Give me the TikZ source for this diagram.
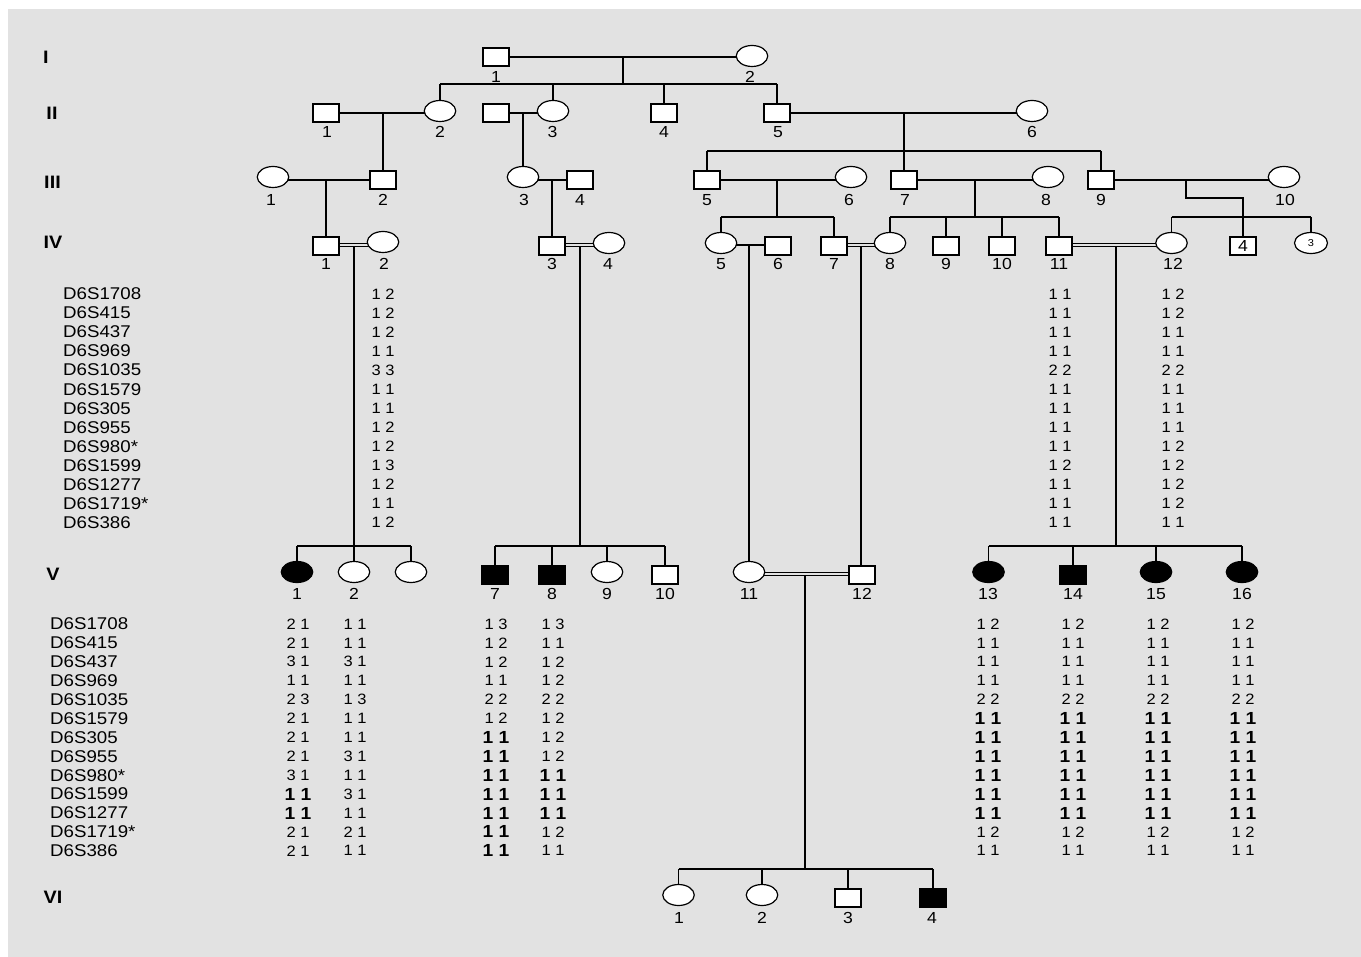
\documentclass[tikz,border=0pt]{standalone}
\usepackage{fontspec}
\setmainfont[FakeStretch=1.1]{Liberation Sans}
\usetikzlibrary{shapes.geometric}
\pgfdeclarelayer{bg}\pgfdeclarelayer{lines}\pgfsetlayers{bg,lines,main}
\definecolor{bgc}{RGB}{226,226,226}
\newcommand\bal[1]{{\fontsize{17.5}{17.5}\selectfont\bfseries #1}}
\newcommand\alcol[5]{\foreach \a [count=\i from 0] in {#5} {\node[al] (#1-\i) at (#2,{#3+#4*\i}) {\a};}}
\tikzset{
 ind/.style={draw=black, fill=white, inner sep=0pt, outer sep=0pt},
 male/.style={ind, rectangle, line width=2pt, minimum width=26pt, minimum height=18pt},
 female/.style={ind, ellipse, line width=1.2pt, minimum width=31.5pt, minimum height=21pt},
 aff/.style={fill=black},
 lbl/.style={font=\fontsize{16}{16}\selectfont, inner sep=0pt},
 gen/.style={font=\fontsize{18}{18}\selectfont\bfseries, inner sep=0pt},
 mk/.style={font=\fontsize{17}{17}\selectfont, inner sep=0pt, anchor=west},
 al/.style={font=\fontsize{15}{15}\selectfont, inner sep=0pt},
 ln/.style={line width=1.8pt},
 dbl/.style={double=bgc, line width=1.2pt, double distance=1.8pt},
}
\begin{document}
\begin{tikzpicture}[x=1pt,y=-1pt]
\useasboundingbox (0,0) rectangle (1361,957);
\begin{pgfonlayer}{bg}
\fill[white] (0,0) rectangle (1361,957);
\fill[bgc] (8,9) rectangle (1361,957);
\end{pgfonlayer}

% generation labels
\node[gen] (gI) at (46,57) {I};
\node[gen] (gII) at (52,113) {II};
\node[gen] (gIII) at (52.5,182) {III};
\node[gen] (gIV) at (53,242) {IV};
\node[gen] (gV) at (53,574) {V};
\node[gen] (gVI) at (53,897) {VI};

% Generation I
\node[male] (I1) at (496,57) {};
\node[female] (I2) at (752,56) {};
\node[lbl] (lI1) at (496,77) {1};
\node[lbl] (lI2) at (750,77) {2};

% Generation II
\node[male] (II1) at (326,113) {};
\node[female] (II2) at (440,111) {};
\node[male] (IIa) at (496,113) {};
\node[female] (II3) at (553,111) {};
\node[male] (II4) at (664,113) {};
\node[male] (II5) at (777,113) {};
\node[female] (II6) at (1032,111) {};
\node[lbl] (lII1) at (327,132) {1};
\node[lbl] (lII2) at (440,132) {2};
\node[lbl] (lII3) at (552.5,132) {3};
\node[lbl] (lII4) at (664,132) {4};
\node[lbl] (lII5) at (778,132) {5};
\node[lbl] (lII6) at (1032,132) {6};

% Generation III
\node[female] (III1) at (273,177) {};
\node[male] (III2) at (383,180) {};
\node[female] (III3) at (523,177) {};
\node[male] (III4) at (580,180) {};
\node[male] (III5) at (707,180) {};
\node[female] (III6) at (851,177) {};
\node[male] (III7) at (904,180) {};
\node[female] (III8) at (1048,177) {};
\node[male] (III9) at (1101,180) {};
\node[female] (III10) at (1284,177) {};
\node[lbl] (lIII1) at (271,200) {1};
\node[lbl] (lIII2) at (383,200) {2};
\node[lbl] (lIII3) at (524,200) {3};
\node[lbl] (lIII4) at (580,200) {4};
\node[lbl] (lIII5) at (707,200) {5};
\node[lbl] (lIII6) at (849,200) {6};
\node[lbl] (lIII7) at (905,200) {7};
\node[lbl] (lIII8) at (1046,200) {8};
\node[lbl] (lIII9) at (1101,200) {9};
\node[lbl] (lIII10) at (1285,200) {10};

% Generation IV
\node[male] (IV1) at (326,246) {};
\node[female] (IV2) at (383,242) {};
\node[male] (IV3) at (552,246) {};
\node[female] (IV4) at (609,243) {};
\node[female] (IV5) at (721,243) {};
\node[male] (IV6) at (778,246) {};
\node[male] (IV7) at (834,246) {};
\node[female] (IV8) at (890,243) {};
\node[male] (IV9) at (946,246) {};
\node[male] (IV10) at (1002,246) {};
\node[male] (IV11) at (1059,246) {};
\node[female] (IV12) at (1171.5,243) {};
\node[male,font=\fontsize{16}{16}\selectfont] (IVm4) at (1243,246) {4};
\node[female,minimum width=33pt,font=\fontsize{10}{10}\selectfont] (IVf3) at (1311,243) {3};
\node[lbl] (lIV1) at (326,264) {1};
\node[lbl] (lIV2) at (384,264) {2};
\node[lbl] (lIV3) at (552,264) {3};
\node[lbl] (lIV4) at (608,264) {4};
\node[lbl] (lIV5) at (721,264) {5};
\node[lbl] (lIV6) at (778,264) {6};
\node[lbl] (lIV7) at (834,264) {7};
\node[lbl] (lIV8) at (890,264) {8};
\node[lbl] (lIV9) at (946,264) {9};
\node[lbl] (lIV10) at (1002,264) {10};
\node[lbl] (lIV11) at (1059,264) {11};
\node[lbl] (lIV12) at (1173,264) {12};

% Generation V
\node[female,aff] (V1) at (297,572) {};
\node[female] (V2) at (354,572) {};
\node[female] (V3) at (411,572) {};
\node[male,aff] (V7) at (495,575) {};
\node[male,aff] (V8) at (552,575) {};
\node[female] (V9) at (607,572) {};
\node[male] (V10) at (665,575) {};
\node[female] (V11) at (749,572) {};
\node[male] (V12) at (862,575) {};
\node[female,aff] (V13) at (988.5,572) {};
\node[male,aff] (V14) at (1073,575) {};
\node[female,aff] (V15) at (1156,572) {};
\node[female,aff] (V16) at (1242,572) {};
\node[lbl] (lV1) at (297,594) {1};
\node[lbl] (lV2) at (354,594) {2};
\node[lbl] (lV7) at (495,594) {7};
\node[lbl] (lV8) at (552,594) {8};
\node[lbl] (lV9) at (607,594) {9};
\node[lbl] (lV10) at (665,594) {10};
\node[lbl] (lV11) at (749,594) {11};
\node[lbl] (lV12) at (862,594) {12};
\node[lbl] (lV13) at (988,594) {13};
\node[lbl] (lV14) at (1073,594) {14};
\node[lbl] (lV15) at (1156,594) {15};
\node[lbl] (lV16) at (1242,594) {16};

% Generation VI
\node[female] (VI1) at (678.5,895) {};
\node[female] (VI2) at (762,895) {};
\node[male] (VI3) at (848,898) {};
\node[male,aff] (VI4) at (933,898) {};
\node[lbl] (lVI1) at (679,918) {1};
\node[lbl] (lVI2) at (762,918) {2};
\node[lbl] (lVI3) at (848,918) {3};
\node[lbl] (lVI4) at (932,918) {4};

% marker names
\def\markers{D6S1708,D6S415,D6S437,D6S969,D6S1035,D6S1579,D6S305,D6S955,D6S980*,D6S1599,D6S1277,D6S1719*,D6S386}
\foreach \m [count=\i from 0] in \markers {\node[mk] (mkIV-\i) at (63,{294+19.03*\i}) {\m};}
\foreach \m [count=\i from 0] in \markers {\node[mk] (mkV-\i) at (50,{624+18.9*\i}) {\m};}

% haplotypes generation IV
\alcol{aIV2}{383}{294}{19.03}{1 2,1 2,1 2,1 1,3 3,1 1,1 1,1 2,1 2,1 3,1 2,1 1,1 2}
\alcol{aIV11}{1060}{294}{19.03}{1 1,1 1,1 1,1 1,2 2,1 1,1 1,1 1,1 1,1 2,1 1,1 1,1 1}
\alcol{aIV12}{1173}{294}{19.03}{1 2,1 2,1 1,1 1,2 2,1 1,1 1,1 1,1 2,1 2,1 2,1 2,1 1}

% haplotypes generation V
\alcol{aV1}{298}{624}{18.9}{2 1,2 1,3 1,1 1,2 3,2 1,2 1,2 1,3 1,\bal{1 1},\bal{1 1},2 1,2 1}
\alcol{aV2}{355}{624}{18.9}{1 1,1 1,3 1,1 1,1 3,1 1,1 1,3 1,1 1,3 1,1 1,2 1,1 1}
\alcol{aV7}{496}{624}{18.9}{1 3,1 2,1 2,1 1,2 2,1 2,\bal{1 1},\bal{1 1},\bal{1 1},\bal{1 1},\bal{1 1},\bal{1 1},\bal{1 1}}
\alcol{aV8}{553}{624}{18.9}{1 3,1 1,1 2,1 2,2 2,1 2,1 2,1 2,\bal{1 1},\bal{1 1},\bal{1 1},1 2,1 1}
\alcol{aV13}{988}{624}{18.9}{1 2,1 1,1 1,1 1,2 2,\bal{1 1},\bal{1 1},\bal{1 1},\bal{1 1},\bal{1 1},\bal{1 1},1 2,1 1}
\alcol{aV14}{1073}{624}{18.9}{1 2,1 1,1 1,1 1,2 2,\bal{1 1},\bal{1 1},\bal{1 1},\bal{1 1},\bal{1 1},\bal{1 1},1 2,1 1}
\alcol{aV15}{1158}{624}{18.9}{1 2,1 1,1 1,1 1,2 2,\bal{1 1},\bal{1 1},\bal{1 1},\bal{1 1},\bal{1 1},\bal{1 1},1 2,1 1}
\alcol{aV16}{1243}{624}{18.9}{1 2,1 1,1 1,1 1,2 2,\bal{1 1},\bal{1 1},\bal{1 1},\bal{1 1},\bal{1 1},\bal{1 1},1 2,1 1}

% connectors
\begin{pgfonlayer}{lines}
% I
\coordinate (m1) at (623,57);
\coordinate (s1) at (623,84);
\draw[ln] (I1) -- (I1 -| I2);
\draw[ln] (m1) -- (s1);
\draw[ln] (II2 |- s1) -- (II5 |- s1);
\foreach \c in {II2,II3,II4,II5} \draw[ln] (\c |- s1) -- (\c);
% II
\draw[ln] (II1) -- (II1 -| II2);
\coordinate (m2a) at (383,113);
\draw[ln] (m2a) -- (III2);
\draw[ln] (IIa) -- (IIa -| II3);
\coordinate (m2b) at (523,113);
\draw[ln] (m2b) -- (III3);
\draw[ln] (II5) -- (II5 -| II6);
\coordinate (m2c) at (904,113);
\coordinate (s2c) at (904,151);
\draw[ln] (m2c) -- (s2c);
\draw[ln] (III5 |- s2c) -- (III9 |- s2c);
\foreach \c in {III5,III7,III9} \draw[ln] (\c |- s2c) -- (\c);
% III
\draw[ln] (III2) -- (III2 -| III1);
\coordinate (m3a) at (326,180);
\draw[ln] (m3a) -- (IV1);
\draw[ln] (III4) -- (III4 -| III3);
\coordinate (m3b) at (552,180);
\draw[ln] (m3b) -- (IV3);
\draw[ln] (III5) -- (III5 -| III6);
\coordinate (m3c) at (777,180);
\coordinate (s3c) at (777,217);
\draw[ln] (m3c) -- (s3c);
\draw[ln] (IV5 |- s3c) -- (IV7 |- s3c);
\foreach \c in {IV5,IV7} \draw[ln] (\c |- s3c) -- (\c);
\draw[ln] (III7) -- (III7 -| III8);
\coordinate (m3d) at (975,180);
\coordinate (s3d) at (975,217);
\draw[ln] (m3d) -- (s3d);
\draw[ln] (IV8 |- s3d) -- (IV11 |- s3d);
\foreach \c in {IV8,IV9,IV10,IV11} \draw[ln] (\c |- s3d) -- (\c);
\draw[ln] (III9) -- (III9 -| III10);
\coordinate (m3e) at (1186,180);
\coordinate (k3e) at (1186,198);
\coordinate (s3e) at (1243,217);
\draw[ln] (m3e) -- (k3e) -- (k3e -| IVm4) -- (IVm4);
\draw[ln] (IV12 |- s3e) -- (IVf3 |- s3e);
\foreach \c in {IV12,IVf3} \draw[ln] (\c |- s3e) -- (\c);
% IV
\coordinate (m4a) at (354,245);
\coordinate (s4a) at (354,546);
\draw[ln] (m4a) -- (s4a);
\draw[dbl] (IV1 |- m4a) -- (IV2 |- m4a);
\draw[ln] (V1 |- s4a) -- (V3 |- s4a);
\foreach \c in {V1,V2,V3} \draw[ln] (\c |- s4a) -- (\c);
\coordinate (m4b) at (580,245);
\coordinate (s4b) at (580,546);
\draw[ln] (m4b) -- (s4b);
\draw[dbl] (IV3 |- m4b) -- (IV4 |- m4b);
\draw[ln] (V7 |- s4b) -- (V10 |- s4b);
\foreach \c in {V7,V8,V9,V10} \draw[ln] (\c |- s4b) -- (\c);
\coordinate (m4c) at (749,245);
\draw[ln] (IV5 |- m4c) -- (IV6 |- m4c);
\draw[ln] (m4c) -- (V11);
\coordinate (m4d) at (861,245);
\draw[ln] (m4d) -- (m4d |- V12.north);
\draw[dbl] (IV7 |- m4d) -- (IV8 |- m4d);
\coordinate (m4e) at (1116,245);
\coordinate (s4e) at (1116,546);
\draw[ln] (m4e) -- (s4e);
\draw[dbl] (IV11 |- m4e) -- (IV12 |- m4e);
\draw[ln] (V13 |- s4e) -- (V16 |- s4e);
\foreach \c in {V13,V14,V15,V16} \draw[ln] (\c |- s4e) -- (\c);
% V
\coordinate (m5) at (805,574);
\coordinate (s5) at (805,869);
\draw[ln] (m5) -- (s5);
\draw[dbl] (V11 |- m5) -- (V12 |- m5);
\draw[ln] (VI1 |- s5) -- (VI4 |- s5);
\foreach \c in {VI1,VI2,VI3,VI4} \draw[ln] (\c |- s5) -- (\c);
\end{pgfonlayer}
\end{tikzpicture}
\end{document}
